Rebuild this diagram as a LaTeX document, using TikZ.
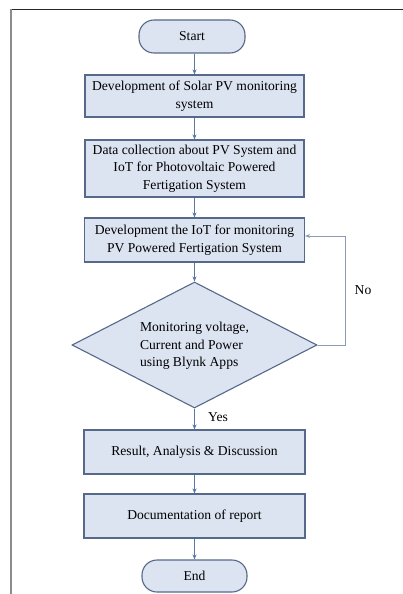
\documentclass[tikz,border=0pt]{standalone}
\usepackage{fontspec}
\setmainfont{Liberation Serif}
\usetikzlibrary{shapes.geometric,arrows.meta,calc}
\definecolor{boxfill}{HTML}{DCE3F1}
\definecolor{boxdraw}{HTML}{56698A}
\definecolor{arrowc}{HTML}{5878A6}
\definecolor{loopc}{HTML}{8A9BB5}
\tikzset{
  procbox/.style={rectangle, draw=boxdraw, fill=boxfill, line width=1.1pt, align=center, inner sep=0pt, font=\fontsize{13.6}{17.5}\selectfont},
  termbox/.style={rectangle, rounded corners=15pt, draw=boxdraw, fill=boxfill, line width=1.1pt, align=center, inner sep=0pt, font=\fontsize{13.6}{17.5}\selectfont},
  decbox/.style={diamond, draw=boxdraw, fill=boxfill, line width=1.1pt, inner sep=0pt},
  flow/.style={draw=arrowc, line width=1pt, -{Stealth[length=5pt,width=4pt]}},
  loopflow/.style={draw=loopc, line width=1pt, -{Stealth[length=5pt,width=4pt]}},
  lbl/.style={font=\fontsize{13.6}{15}\selectfont}
}
\begin{document}
\begin{tikzpicture}[x=1pt,y=-1pt]
\useasboundingbox (0,0) rectangle (403,594);
\fill[white] (0,0) rectangle (403,594);
\draw[black!85, line width=1.3pt] (11,9.5) -- (403,9.5);
\draw[black!45, line width=1.6pt] (11,9.5) -- (11,594);

\node[termbox, minimum width=106pt, minimum height=33pt] (start) at (192,36.5) {Start};
\node[procbox, minimum width=219pt, minimum height=42pt] (b1) at (194.5,96) {Development of Solar PV monitoring\\system};
\node[procbox, minimum width=219pt, minimum height=57pt] (b2) at (194.5,168.5) {Data collection about PV System and\\IoT for Photovoltaic Powered\\Fertigation System};
\node[procbox, minimum width=220pt, minimum height=44pt] (b3) at (194.5,240) {Development the IoT for monitoring\\PV Powered Fertigation System};
\node[decbox, minimum width=245pt, minimum height=126pt, shape aspect=1.94] (d) at (194.5,345) {};
\node[align=left, inner sep=0pt, font=\fontsize{13.6}{17.5}\selectfont] (dt) at (194.5,346) {Monitoring voltage,\\Current and Power\\using Blynk Apps};
\node[procbox, minimum width=221pt, minimum height=44pt] (b4) at (194.5,452) {Result, Analysis \& Discussion};
\node[procbox, minimum width=221pt, minimum height=44pt] (b5) at (194.5,516) {Documentation of report};
\node[termbox, minimum width=105pt, minimum height=32pt] (end) at (194.5,576) {End};

\coordinate (fb) at (345,236);
\draw[flow] (start.south -| b1.north) -- (b1);
\draw[flow] (b1) -- (b2);
\draw[flow] (b2) -- (b3);
\draw[flow] (b3) -- (d);
\draw[flow] (d) -- (b4);
\draw[flow] (b4) -- (b5);
\draw[flow] (b5) -- (end);
\draw[loopflow] (d.east) -| (fb) -- (fb -| b3.east);

\node[lbl] (no) at (363,290) {No};
\node[lbl] (yes) at (218,417) {Yes};
\end{tikzpicture}
\end{document}
